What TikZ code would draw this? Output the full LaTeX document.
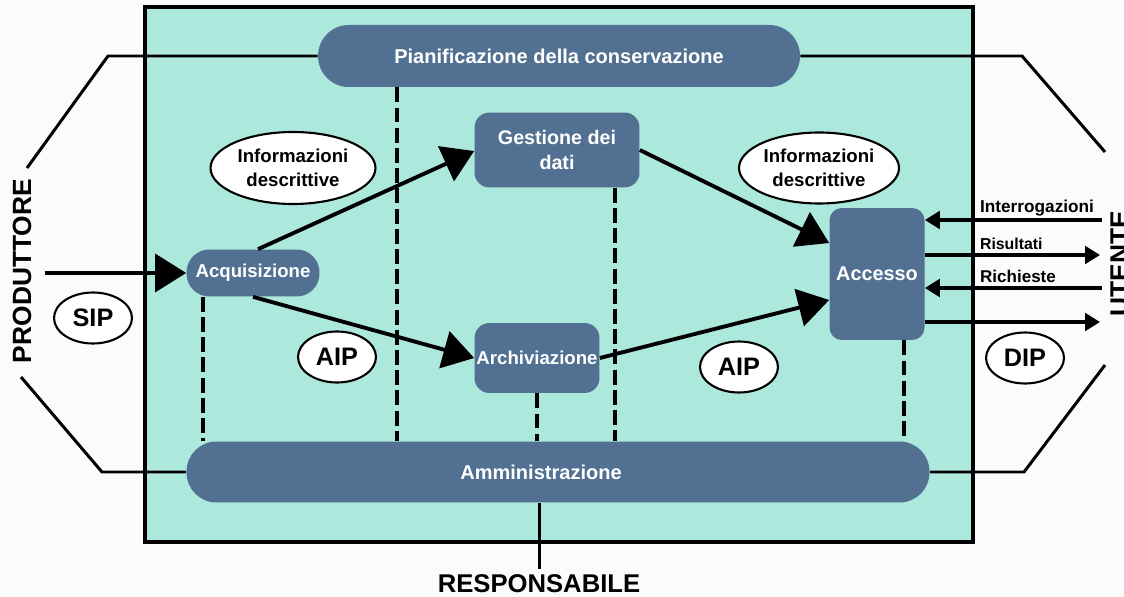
\documentclass[tikz,border=0pt]{standalone}
\usepackage{fontspec}
\setmainfont{Liberation Sans}
\usetikzlibrary{arrows.meta,shapes.geometric,calc}
\definecolor{paper}{RGB}{251,251,251}
\definecolor{panel}{RGB}{173,232,220}
\definecolor{func}{RGB}{82,112,146}
\newcommand{\fs}[2]{\fontsize{#1}{#2}\selectfont\bfseries}
\begin{document}
\begin{tikzpicture}[x=0.02cm,y=-0.02cm,
  funcbox/.style={fill=func,draw=none,text=white,align=center,inner sep=0pt},
  infobox/.style={ellipse,draw=black,line width=1.2pt,fill=white,align=center,inner sep=0pt},
  pkg/.style={infobox,minimum width=1.56cm,minimum height=1.02cm,font=\fs{14.4pt}{16pt}},
  flow/.style={line width=2.2pt,-{Triangle[length=17.6pt,width=21.5pt]}},
  io/.style={line width=1.8pt,-{Triangle[length=8.5pt,width=10pt]}},
  link/.style={line width=1.7pt},
  guide/.style={line width=2.2pt,dash pattern=on 8.5pt off 3pt},
  actor/.style={font=\fs{15pt}{18pt}}]
% page and repository frame
\fill[paper] (0,0) rectangle (1124,597);
\useasboundingbox (0,0) rectangle (1124,597);
\draw[fill=panel,line width=2.2pt] (145,7) rectangle (973,542);

% functional entities
\node[funcbox,minimum width=9.64cm,minimum height=1.24cm,rounded corners=17.5pt,font=\fs{11.4pt}{14pt}]
  (plan) at (559,56) {Pianificazione della conservazione};
\node[funcbox,minimum width=2.66cm,minimum height=0.94cm,rounded corners=13pt,font=\fs{10.6pt}{13pt}]
  (acq) at (253,273) {Acquisizione};
\node[funcbox,minimum width=3.3cm,minimum height=1.5cm,rounded corners=8.5pt,font=\fs{11.2pt}{14.5pt}]
  (ges) at (557,150) {Gestione dei\\dati};
\node[funcbox,minimum width=2.5cm,minimum height=1.4cm,rounded corners=8.5pt,font=\fs{10.6pt}{13pt}]
  (arch) at (537,358) {Archiviazione};
\node[funcbox,minimum width=1.9cm,minimum height=2.64cm,rounded corners=7pt,font=\fs{11.3pt}{14pt}]
  (acc) at (877,274) {Accesso};
\node[funcbox,minimum width=14.86cm,minimum height=1.22cm,rounded corners=17pt,font=\fs{11.4pt}{14pt}]
  (adm) at (558,472) {Amministrazione\hspace*{0.68cm}};

% information packages and descriptive information
\node[infobox,minimum width=3.3cm,minimum height=1.44cm,font=\fs{10.6pt}{13.6pt}] (info1) at (293,168) {Informazioni\\descrittive};
\node[infobox,minimum width=3.2cm,minimum height=1.42cm,font=\fs{10.6pt}{13.6pt}] (info2) at (819,168) {Informazioni\\descrittive};
\node[pkg] (sip) at (93,318) {SIP};
\node[pkg] (aip1) at (337,357) {AIP};
\node[pkg] (aip2) at (739,367) {AIP};
\node[pkg] (dip) at (1025,358) {DIP};

% external actors
\node[actor,rotate=90] (prod) at (22,271) {PRODUTTORE};
\node[actor,rotate=90,anchor=north,inner sep=0pt] (ute) at (1110,264) {UTENTE};
\node[actor,font=\fs{14.6pt}{17pt}] (resp) at (539,584) {RESPONSABILE};

% outline from the producer and the consumer to the planning and administration bands
\coordinate (pl) at (108,56);
\coordinate (ple) at (27,168);
\coordinate (pr) at (1022,56);
\coordinate (pre) at (1105,152);
\coordinate (al) at (102,472);
\coordinate (ale) at (21,377);
\coordinate (ar) at (1024,472);
\coordinate (are) at (1105,365);
\draw[link] (plan.west) -- (pl) -- (ple);
\draw[link] (plan.east) -- (pr) -- (pre);
\draw[link] (adm.west) -- (al) -- (ale);
\draw[link] (adm.east) -- (ar) -- (are);
\draw[link] (adm.south -| resp.north) -- (resp.north);

% dashed guides to the administration band
\coordinate (g1) at ($(acq.south)+(-50,0)$);
\coordinate (x397) at (397,0);
\coordinate (x615) at (615,0);
\coordinate (x904) at (904,0);
\draw[guide] (g1) -- (g1 |- adm.north);
\draw[guide] (plan.south -| x397) -- (adm.north -| x397);
\draw[guide] (arch.south) -- (arch.south |- adm.north);
\draw[guide] (ges.south -| x615) -- (adm.north -| x615);
\draw[guide] (acc.south -| x904) -- (adm.north -| x904);

% main flows
\coordinate (src) at (45,273);
\draw[flow] (src) -- (acq.west);
\draw[flow] ([xshift=0.1cm]acq.north) -- ([yshift=-0.02cm]ges.west);
\draw[flow] (acq.south) -- (arch.west);
\draw[flow] (ges.east) -- ([yshift=0.62cm]acc.west);
\draw[flow] (arch.east) -- ([yshift=-0.52cm]acc.west);

% exchanges with the consumer
\coordinate (u1) at (1102,220);
\coordinate (u2) at (1100,255);
\coordinate (u3) at (1102,288);
\coordinate (u4) at (1100,322);
\draw[io] (u1) -- (acc.east |- u1);
\draw[io] (acc.east |- u2) -- (u2);
\draw[io] (u3) -- (acc.east |- u3);
\draw[io] (acc.east |- u4) -- (u4);
\node[font=\fs{9.8pt}{12pt},anchor=south west,inner sep=1pt] (lq) at (978,218) {Interrogazioni};
\node[font=\fs{9pt}{12pt},anchor=south west,inner sep=1pt] (lr) at (978,252) {Risultati};
\node[font=\fs{9.7pt}{12pt},anchor=south west,inner sep=1pt] (lh) at (978,285) {Richieste};
\end{tikzpicture}
\end{document}
